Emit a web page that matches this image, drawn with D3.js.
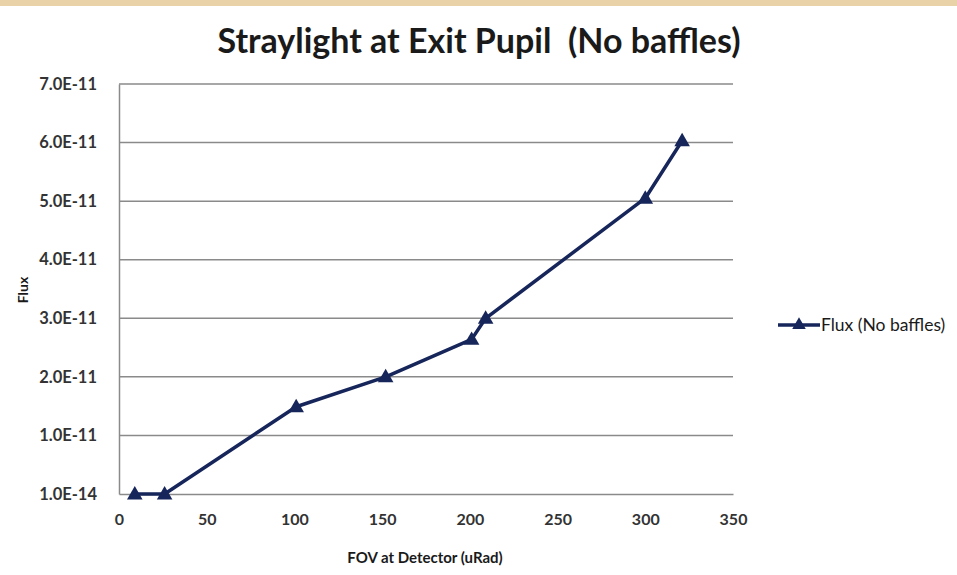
<!DOCTYPE html>
<html><head><meta charset="utf-8">
<script src="https://cdn.jsdelivr.net/npm/d3@7"></script>
<style>
html,body{margin:0;padding:0;background:#fff;}
svg{display:block;}
text{font-family:Lato,"Open Sans",sans-serif;white-space:pre;}
</style></head>
<body>
<script>
const fov = [9, 26, 101, 152, 201, 209, 300, 321];
const flux = [1e-14, 1e-14, 1.49e-11, 2.0e-11, 2.64e-11, 3.0e-11, 5.05e-11, 6.03e-11];
const xTicks = [0, 50, 100, 150, 200, 250, 300, 350];
const yTicks = [0, 1e-11, 2e-11, 3e-11, 4e-11, 5e-11, 6e-11, 7e-11];
const yTickLabels = ["1.0E-14", "1.0E-11", "2.0E-11", "3.0E-11", "4.0E-11", "5.0E-11", "6.0E-11", "7.0E-11"];
const seriesName = "Flux (No baffles)";
const titleText = "Straylight at Exit Pupil  (No baffles)";
const xTitle = "FOV at Detector (uRad)";
const yTitle = "Flux";

const W = 957, H = 575;
const m = {left:119, right:224, top:84, bottom:81};
const svg = d3.select("body").append("svg").attr("width", W).attr("height", H);

svg.append("rect").attr("x",0).attr("y",0).attr("width",W).attr("height",6).attr("fill","#e9d2a8");

const x = d3.scaleLinear().domain([0,350]).range([m.left, W-m.right]);
const y = d3.scaleLinear().domain([0,7e-11]).range([H-m.bottom, m.top]);

// gridlines
svg.append("g").selectAll("line").data(yTicks.slice(1)).join("line")
  .attr("x1", x(0)).attr("x2", x(350))
  .attr("y1", d=>y(d)).attr("y2", d=>y(d))
  .attr("stroke","#8a8a8a").attr("stroke-width",1.5);

// axes
const xAxis = svg.append("g").attr("transform",`translate(0,${y(0)})`)
  .call(d3.axisBottom(x).tickValues(xTicks).tickSize(0).tickPadding(20));
xAxis.select(".domain").attr("stroke","#8a8a8a").attr("stroke-width",1.5);
xAxis.selectAll("text").attr("font-size",16).attr("font-weight","bold").attr("fill","#333");

const yAxis = svg.append("g").attr("transform",`translate(${x(0)},0)`)
  .call(d3.axisLeft(y).tickValues(yTicks).tickFormat((d,i)=>yTickLabels[i]).tickSize(0).tickPadding(22));
yAxis.select(".domain").attr("stroke","#8a8a8a").attr("stroke-width",1.5);
yAxis.selectAll("text").attr("font-size",16.5).attr("font-weight","bold").attr("fill","#333");

// line
const color = "#16255a";
const pts = fov.map((f,i)=>[f, flux[i]]);
svg.append("path").datum(pts)
  .attr("d", d3.line().x(d=>x(d[0])).y(d=>y(d[1])))
  .attr("fill","none").attr("stroke",color).attr("stroke-width",3.5).attr("stroke-linejoin","round");

const tri = d3.symbol().type(d3.symbolTriangle).size(105);
svg.append("g").selectAll("path").data(pts).join("path")
  .attr("transform", d=>`translate(${x(d[0])},${y(d[1])+1})`)
  .attr("d", tri).attr("fill", color);

// title
svg.append("text").attr("x", 479).attr("y", 53).attr("text-anchor","middle")
  .attr("font-size",34).attr("font-weight","bold").attr("fill","#1a1a1a").text(titleText);

// axis titles
svg.append("text").attr("x", 425).attr("y", 563).attr("text-anchor","middle")
  .attr("font-size",15).attr("font-weight","bold").attr("fill","#1a1a1a").text(xTitle);
svg.append("text").attr("transform","translate(28,290) rotate(-90)").attr("text-anchor","middle")
  .attr("font-size",14).attr("font-weight","bold").attr("fill","#1a1a1a").text(yTitle);

// legend
const lg = svg.append("g");
lg.append("line").attr("x1",778).attr("x2",820).attr("y1",325).attr("y2",325)
  .attr("stroke",color).attr("stroke-width",3.5);
lg.append("path").attr("transform","translate(799,325)").attr("d",d3.symbol().type(d3.symbolTriangle).size(80)).attr("fill",color);
lg.append("text").attr("x",821).attr("y",331).attr("font-size",17.5).attr("fill","#1a1a1a").text(seriesName);
</script>
</body></html>
